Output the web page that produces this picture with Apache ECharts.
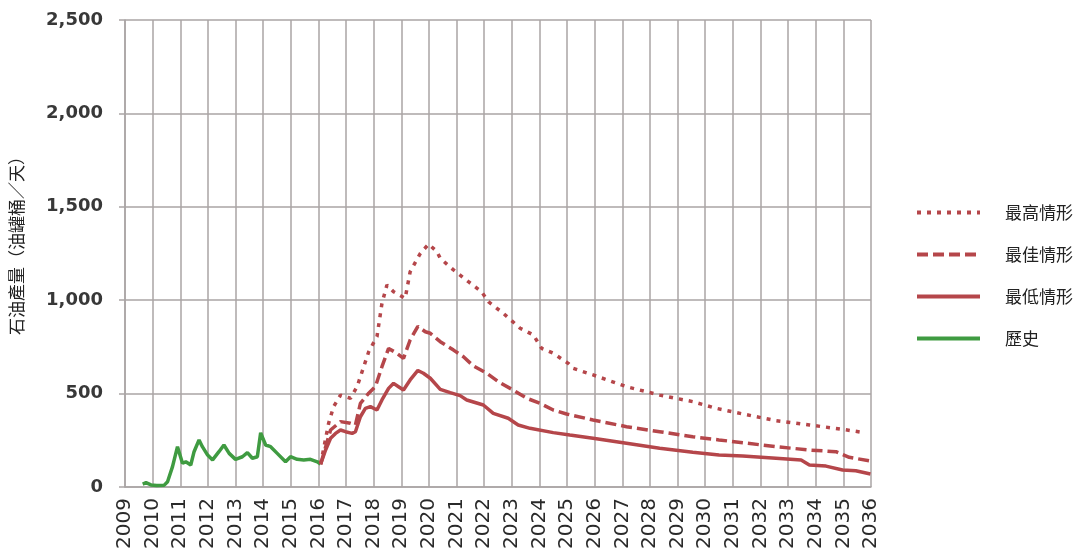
<!DOCTYPE html>
<html>
<head>
<meta charset="utf-8">
<script src="https://cdn.jsdelivr.net/npm/echarts@6/dist/echarts.min.js"></script>
<style>
html,body{margin:0;padding:0;background:#fff;}
#chart{width:1088px;height:556px;}
</style>
</head>
<body>
<div id="chart"></div>
<script>
// ---- data ----
const seriesNames = ['最高情形', '最佳情形', '最低情形', '歷史'];
const yAxisTitle = '石油產量（油罐桶／天）';

const histYears = [2009.64, 2009.76, 2009.94, 2010.15, 2010.42, 2010.54, 2010.72, 2010.9, 2011.08, 2011.2, 2011.38, 2011.5, 2011.68, 2011.8, 2011.99, 2012.17, 2012.4, 2012.58, 2012.77, 2013.0, 2013.25, 2013.43, 2013.61, 2013.79, 2013.91, 2014.09, 2014.27, 2014.51, 2014.81, 2014.99, 2015.23, 2015.47, 2015.71, 2015.96, 2016.08];
const histValues = [16, 23, 11, 8, 10, 28, 109, 216, 127, 135, 118, 189, 252, 216, 171, 145, 189, 225, 180, 148, 162, 184, 154, 162, 290, 225, 216, 180, 135, 162, 148, 145, 148, 135, 122];

const lowYears = [2016.08, 2016.26, 2016.44, 2016.62, 2016.8, 2016.98, 2017.22, 2017.34, 2017.52, 2017.7, 2017.88, 2018.12, 2018.3, 2018.54, 2018.72, 2018.9, 2019.08, 2019.32, 2019.6, 2019.8, 2020.05, 2020.41, 2020.77, 2021.13, 2021.37, 2021.97, 2022.33, 2022.87, 2023.23, 2023.66, 2024.5, 2025.1, 2025.94, 2027.15, 2028.35, 2029.55, 2030.5, 2031.36, 2032.56, 2033.47, 2033.77, 2034.37, 2034.97, 2035.45, 2035.98];
const lowValues = [122, 198, 261, 287, 305, 296, 287, 296, 376, 421, 430, 412, 466, 528, 555, 537, 519, 573, 624, 609, 582, 523, 505, 489, 466, 439, 394, 368, 332, 314, 291, 278, 261, 234, 207, 186, 171, 166, 154, 145, 118, 112, 91, 87, 70];

const midYears = [2016.08, 2016.44, 2016.8, 2017.16, 2017.34, 2017.52, 2017.82, 2018.06, 2018.3, 2018.54, 2018.84, 2019.08, 2019.32, 2019.6, 2019.87, 2020.05, 2020.41, 2020.89, 2021.25, 2021.61, 2022.09, 2022.57, 2023.05, 2023.54, 2024.02, 2024.5, 2024.98, 2025.94, 2027.15, 2028.35, 2029.55, 2030.5, 2031.36, 2032.56, 2033.77, 2034.73, 2035.21, 2035.98];
const midValues = [122, 305, 350, 341, 332, 448, 502, 537, 644, 742, 716, 689, 787, 860, 831, 823, 778, 733, 697, 648, 609, 558, 519, 475, 448, 412, 391, 359, 323, 296, 269, 252, 237, 216, 198, 189, 159, 139];

const highYears = [2016.08, 2016.37, 2016.55, 2016.8, 2017.16, 2017.4, 2017.82, 2018.12, 2018.3, 2018.48, 2018.72, 2019.14, 2019.32, 2019.69, 2019.99, 2020.29, 2020.41, 2020.89, 2021.43, 2021.91, 2022.15, 2022.69, 2023.3, 2023.78, 2024.08, 2024.5, 2025.04, 2025.22, 2025.94, 2027.15, 2028.35, 2029.55, 2030.4, 2031.36, 2032.56, 2033.77, 2034.97, 2035.75];
const highValues = [122, 341, 430, 492, 475, 537, 724, 805, 983, 1081, 1045, 1010, 1152, 1251, 1300, 1260, 1224, 1162, 1099, 1045, 992, 930, 850, 814, 742, 716, 662, 635, 600, 537, 492, 457, 421, 391, 355, 332, 309, 291];

const xMin = 2009, xMax = 2036, xStep = 1;
const yMin = 0, yMax = 2500, yStep = 500;

// ---- build ----
function pairs(xs, ys) { return xs.map((x, i) => [x, ys[i]]); }
const RED = '#b5464a';
const GREEN = '#3f9b41';
const GRID = '#aaa5a5';

const chart = echarts.init(document.getElementById('chart'), null, {renderer: 'canvas'});

const lineStyles = [
  {color: RED, width: 3.5, type: [4, 6]},
  {color: RED, width: 3.5, type: [11, 5]},
  {color: RED, width: 3.5, type: 'solid'},
  {color: GREEN, width: 3.5, type: 'solid'}
];
const dataSets = [
  pairs(highYears, highValues),
  pairs(midYears, midValues),
  pairs(lowYears, lowValues),
  pairs(histYears, histValues)
];

chart.setOption({
  backgroundColor: '#ffffff',
  animation: false,
  grid: {left: 124, right: 217, top: 20, bottom: 69, containLabel: false},
  legend: {
    orient: 'vertical',
    left: 910,
    top: 199,
    itemWidth: 63,
    itemHeight: 20,
    itemGap: 25,
    data: seriesNames,
    itemStyle: {opacity: 0},
    lineStyle: {width: 4},
    textStyle: {fontFamily: 'Noto Sans CJK TC', fontSize: 17, color: '#222', padding: [0, 0, 0, 20]}
  },
  xAxis: {
    type: 'value',
    min: xMin, max: xMax, interval: xStep,
    axisLine: {show: true, lineStyle: {color: GRID, width: 1.5}},
    axisTick: {show: false},
    splitLine: {show: true, lineStyle: {color: GRID, width: 1.5}},
    axisLabel: {
      rotate: 90, margin: 11,
      fontFamily: 'DejaVu Sans', fontSize: 20, color: '#2a2a2a',
      formatter: v => String(v)
    }
  },
  yAxis: {
    type: 'value',
    min: yMin, max: yMax, interval: yStep,
    name: yAxisTitle,
    nameLocation: 'middle',
    nameRotate: 90,
    nameGap: 100,
    nameTextStyle: {fontFamily: 'Noto Sans CJK TC', fontSize: 17, color: '#222', padding: [0, 0, 0, 24]},
    axisLine: {show: true, lineStyle: {color: GRID, width: 1.5}},
    axisTick: {show: true, length: 6, lineStyle: {color: GRID, width: 1.5}},
    splitLine: {show: true, lineStyle: {color: GRID, width: 1.5}},
    axisLabel: {
      margin: 22,
      fontFamily: 'DejaVu Sans', fontSize: 18, fontWeight: 'bold', color: '#383838',
      formatter: v => v.toLocaleString('en-US')
    }
  },
  series: seriesNames.map((n, i) => ({
    name: n,
    type: 'line',
    data: dataSets[i],
    symbol: 'none',
    showSymbol: false,
    lineStyle: lineStyles[i],
    itemStyle: {color: lineStyles[i].color},
    z: 10 - i
  }))
});
</script>
</body>
</html>
